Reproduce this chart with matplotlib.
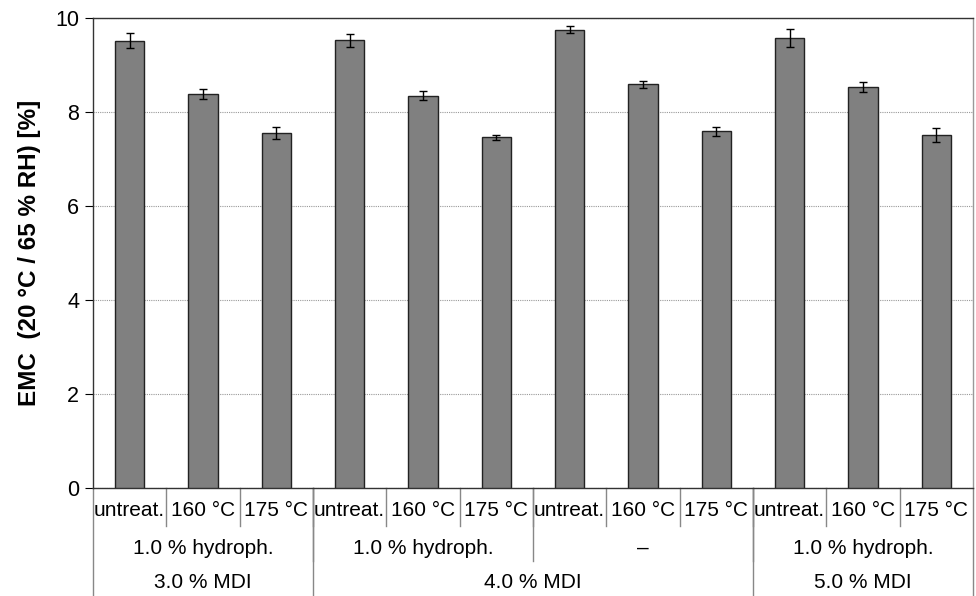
import numpy as np
import matplotlib
matplotlib.use("Agg")
import matplotlib.pyplot as plt
import matplotlib.transforms as mtransforms

plt.rcParams['font.family'] = ['Liberation Sans', 'DejaVu Sans']

# data
temps = ["untreat.", "160 °C", "175 °C"] * 4
hydro = ["1.0 % hydroph.", "1.0 % hydroph.", "\u2013", "1.0 % hydroph."]
mdi = ["3.0 % MDI", "4.0 % MDI", "5.0 % MDI"]
mdi_span = [3, 6, 3]   # categories per MDI group
emc = [9.52, 8.38, 7.56, 9.53, 8.35, 7.46, 9.75, 8.59, 7.59, 9.57, 8.53, 7.51]
err = [0.16, 0.10, 0.13, 0.14, 0.10, 0.06, 0.07, 0.07, 0.10, 0.19, 0.10, 0.15]

fig = plt.figure(figsize=(9.76, 5.96), dpi=100)
ax = fig.add_axes([0.0953, 0.1812, 0.9016, 0.7886])

x = np.arange(len(emc))
ax.bar(x, emc, width=0.4, color="#808080", edgecolor="#222222", linewidth=1.0, zorder=3)
ax.errorbar(x, emc, yerr=err, fmt="none", ecolor="black", elinewidth=1.0,
            capsize=3, capthick=1.0, zorder=4)

ax.set_xlim(-0.5, len(emc) - 0.5)
ax.set_ylim(0, 10)
ax.set_yticks([0, 2, 4, 6, 8, 10])
ax.yaxis.grid(True, linestyle=(0, (1, 1)), color="#999999", linewidth=0.8, zorder=0)
ax.set_xticks([])
ax.tick_params(axis="y", direction="out", length=6, width=0.8, labelsize=15.5, pad=4)

for s in ["top", "left", "bottom"]:
    ax.spines[s].set_color("#333333")
    ax.spines[s].set_linewidth(1.0)
ax.spines["right"].set_color("#999999")
ax.spines["right"].set_linewidth(1.0)

ax.set_ylabel("EMC  (20 °C / 65 % RH) [%]", fontsize=17.5, fontweight="bold", labelpad=10)

# multi-level category labels
trans = mtransforms.blended_transform_factory(ax.transData, ax.transAxes)
row1, row2, row3 = -0.081, -0.155, -0.23
lc = "#888888"
fs = 15

for i, t in enumerate(temps):
    ax.text(i, -0.047, t, transform=trans, ha="center", va="center", fontsize=fs)
for i in range(1, len(temps)):
    ax.plot([i - 0.5, i - 0.5], [0, row1], transform=trans, color=lc, lw=1.0, clip_on=False)

for g, h in enumerate(hydro):
    ax.text(g * 3 + 1, -0.128, h, transform=trans, ha="center", va="center", fontsize=fs)
for g in range(1, len(hydro)):
    ax.plot([g * 3 - 0.5, g * 3 - 0.5], [0, row2], transform=trans, color=lc, lw=1.0, clip_on=False)

start = 0
edges = [-0.5]
for m, n in zip(mdi, mdi_span):
    ax.text(start + (n - 1) / 2, -0.202, m, transform=trans, ha="center", va="center", fontsize=fs)
    start += n
    edges.append(start - 0.5)
for e in edges:
    ax.plot([e, e], [0, row3], transform=trans, color=lc, lw=1.0, clip_on=False)

fig.savefig("out.png", dpi=100)
